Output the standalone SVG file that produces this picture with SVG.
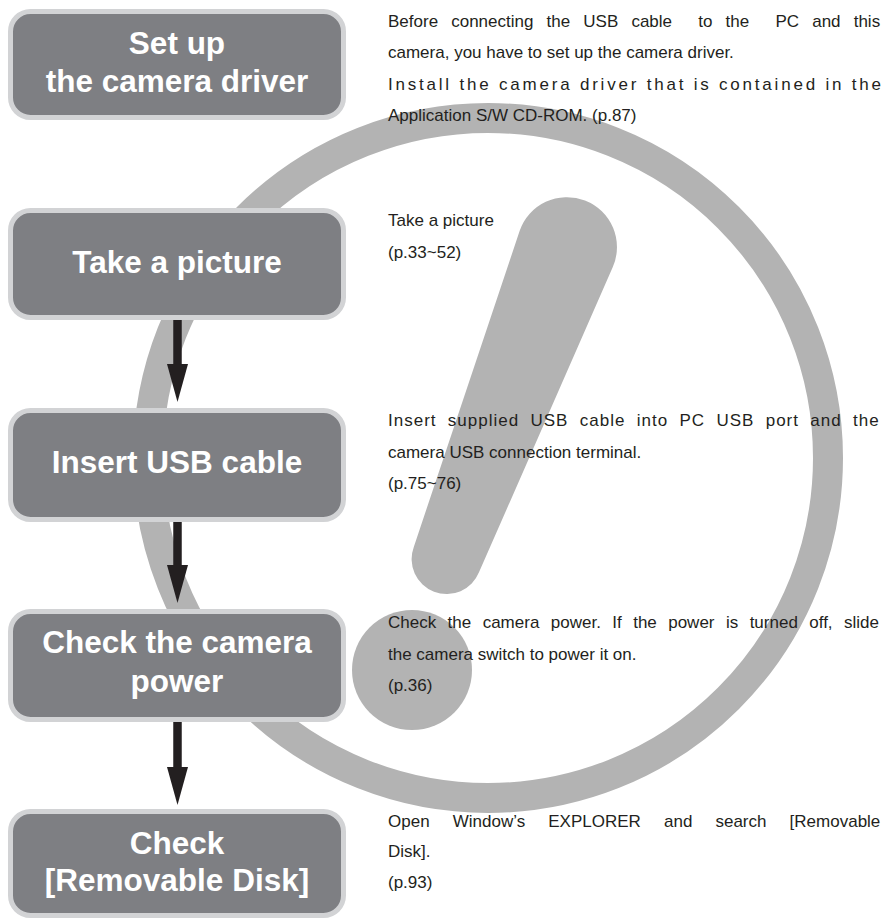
<svg xmlns="http://www.w3.org/2000/svg" width="885" height="918" viewBox="0 0 885 918">
<style>
.bg{fill:#b3b3b3}
.ring{fill:none;stroke:#b3b3b3;stroke-width:30}
.box{fill:#7e7f83;stroke:#d2d3d5;stroke-width:5}
.bt{font-family:"Liberation Sans",Arial,sans-serif;font-weight:bold;font-size:31.5px;fill:#ffffff;text-anchor:middle}
.dt{font-family:"Liberation Sans",Arial,sans-serif;font-size:17px;fill:#231f20}
.conn{stroke:#231f20;stroke-width:8.5;fill:none}
</style>
<defs>
<marker id="ah" markerUnits="userSpaceOnUse" markerWidth="38" markerHeight="22" viewBox="0 -11 38 22" refX="0" refY="0" orient="auto">
<path d="M0,-10.5 L38,0 L0,10.5 Z" fill="#231f20"/>
</marker>
</defs>
<g id="background">
<circle class="ring" cx="488" cy="458" r="340"/>
<path class="bg" d="M519.6,231.1 A50,50 0 1,1 612.8,267.1 L479.1,572.1 A35,35 0 0,1 413.8,546.9 Z"/>
<circle class="bg" cx="412" cy="670" r="60"/>
</g>
<g id="connectors">
<line class="conn" x1="177.5" y1="320" x2="177.5" y2="364" marker-end="url(#ah)"/>
<line class="conn" x1="177.5" y1="522" x2="177.5" y2="565" marker-end="url(#ah)"/>
<line class="conn" x1="177.5" y1="722" x2="177.5" y2="767" marker-end="url(#ah)"/>
</g>
<g id="node1">
<rect class="box" x="10.5" y="11.5" width="333" height="106" rx="20"/>
<text class="bt" x="177" y="54">Set up</text>
<text class="bt" x="177" y="92">the camera driver</text>
</g>
<g id="node2">
<rect class="box" x="10.5" y="210.5" width="333" height="107" rx="20"/>
<text class="bt" x="177" y="273">Take a picture</text>
</g>
<g id="node3">
<rect class="box" x="10.5" y="410.5" width="333" height="109" rx="20"/>
<text class="bt" x="177" y="473">Insert USB cable</text>
</g>
<g id="node4">
<rect class="box" x="10.5" y="611.5" width="333" height="108" rx="20"/>
<text class="bt" x="177" y="653">Check the camera</text>
<text class="bt" x="177" y="692">power</text>
</g>
<g id="node5">
<rect class="box" x="10.5" y="811.5" width="333" height="104" rx="20"/>
<text class="bt" x="177" y="854">Check</text>
<text class="bt" x="177" y="891">[Removable Disk]</text>
</g>
<g id="desc1">
<text class="dt" x="388" y="26.5" xml:space="preserve" style="word-spacing:8.4px">Before connecting the USB cable  to the  PC and this</text>
<text class="dt" x="388" y="58">camera, you have to set up the camera driver.</text>
<text class="dt" x="388" y="89.5" textLength="493" lengthAdjust="spacing">Install the camera driver that is contained in the</text>
<text class="dt" x="388" y="121">Application S/W CD-ROM. (p.87)</text>
</g>
<g id="desc2">
<text class="dt" x="388" y="226">Take a picture</text>
<text class="dt" x="388" y="257.5">(p.33~52)</text>
</g>
<g id="desc3">
<text class="dt" x="388" y="426" style="letter-spacing:1px;word-spacing:5.6px">Insert supplied USB cable into PC USB port and the</text>
<text class="dt" x="388" y="457.5">camera USB connection terminal.</text>
<text class="dt" x="388" y="489">(p.75~76)</text>
</g>
<g id="desc4">
<text class="dt" x="388" y="628" style="word-spacing:6.7px">Check the camera power. If the power is turned off, slide</text>
<text class="dt" x="388" y="659.5">the camera switch to power it on.</text>
<text class="dt" x="388" y="691">(p.36)</text>
</g>
<g id="desc5">
<text class="dt" x="388" y="826.5" style="word-spacing:18.4px">Open Window’s EXPLORER and search [Removable</text>
<text class="dt" x="388" y="857">Disk].</text>
<text class="dt" x="388" y="887.5">(p.93)</text>
</g>
</svg>
